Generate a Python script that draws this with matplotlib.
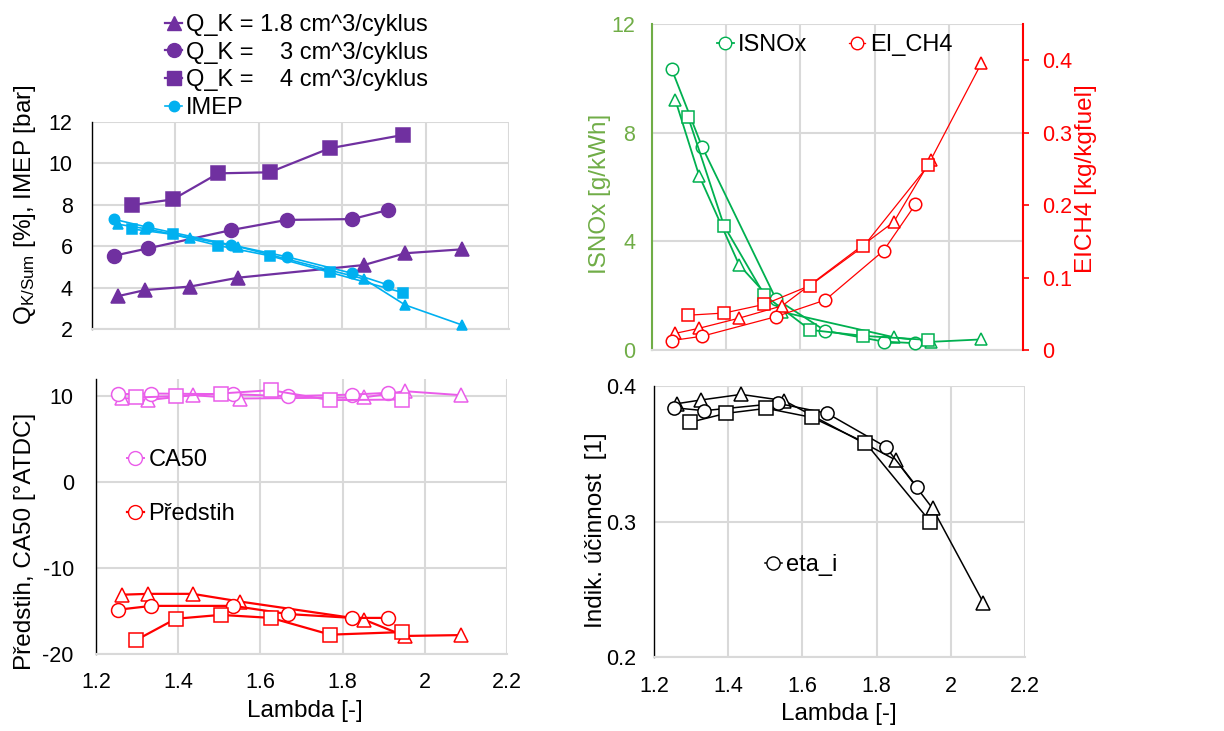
import matplotlib
matplotlib.use('Agg')
import matplotlib.pyplot as plt
from matplotlib.lines import Line2D
from matplotlib.ticker import FuncFormatter

plt.rcParams['font.family'] = ['Liberation Sans', 'DejaVu Sans']
plt.rcParams['font.size'] = 15.5
plt.rcParams['mathtext.fontset'] = 'custom'
plt.rcParams['mathtext.rm'] = 'Liberation Sans'
plt.rcParams['mathtext.it'] = 'Liberation Sans:italic'
plt.rcParams['axes.unicode_minus'] = False

# ---------------- data ----------------
lam_tri = [1.263, 1.327, 1.435, 1.551, 1.852, 1.951, 2.088]   # Q_K = 1.8
lam_cir = [1.253, 1.335, 1.534, 1.667, 1.824, 1.910]          # Q_K = 3
lam_sq = [1.297, 1.394, 1.503, 1.626, 1.770, 1.945]           # Q_K = 4

qk_tri = [3.59, 3.88, 4.05, 4.48, 5.09, 5.66, 5.85]
qk_cir = [5.54, 5.90, 6.78, 7.27, 7.31, 7.75]
qk_sq = [7.99, 8.26, 9.52, 9.57, 10.73, 11.37]

imep_tri = [7.06, 6.85, 6.41, 5.98, 4.42, 3.16, 2.19]
imep_cir = [7.30, 6.91, 6.06, 5.49, 4.69, 4.13]
imep_sq = [6.83, 6.57, 6.03, 5.54, 4.74, 3.76]

isnox_tri = [9.20, 6.42, 3.13, 1.40, 0.47, 0.30, 0.39]
isnox_cir = [10.34, 7.48, 1.88, 0.71, 0.31, 0.25]
isnox_sq = [8.59, 4.58, 2.02, 0.74, 0.52, 0.37]

eich4_tri = [0.023, 0.030, 0.044, 0.061, 0.177, 0.262, 0.396]
eich4_cir = [0.013, 0.019, 0.046, 0.069, 0.137, 0.201]
eich4_sq = [0.048, 0.051, 0.063, 0.089, 0.143, 0.255]

ca50_tri = [9.80, 9.54, 10.12, 9.73, 9.85, 10.58, 10.12]
ca50_cir = [10.23, 10.31, 10.23, 10.00, 10.19, 10.39]
ca50_sq = [9.85, 10.00, 10.31, 10.70, 9.54, 9.61]

pred_tri = [-13.1, -13.0, -13.0, -13.9, -16.0, -17.9, -17.8]
pred_cir = [-14.85, -14.4, -14.4, -15.35, -15.8, -15.8]
pred_sq = [-18.4, -15.9, -15.45, -15.8, -17.75, -17.45]

eta_tri = [0.387, 0.3897, 0.3938, 0.3892, 0.3453, 0.3096, 0.240]
eta_cir = [0.384, 0.3818, 0.3872, 0.3798, 0.3552, 0.3251]
eta_sq = [0.3732, 0.3798, 0.3835, 0.3768, 0.3581, 0.2998]

x_ticks = [1.2, 1.4, 1.6, 1.8, 2.0, 2.2]

legend_top = ['Q_K = 1.8 cm^3/cyklus', 'Q_K =    3 cm^3/cyklus',
              'Q_K =    4 cm^3/cyklus', 'IMEP']

# ---------------- colours ----------------
PURPLE = '#7030a0'
CYAN = '#00b0f0'
GREEN = '#00b050'
OLIVE = '#70ad47'
RED = '#ff0000'
VIOLET = '#ea5cea'
GRID = '#d9d9d9'

LABEL_FS = 17.5
LEG_FS = 17

W, H = 1224, 731
fig = plt.figure(figsize=(W / 100, H / 100), dpi=100)


def ax_px(l, t, r, b):
    return fig.add_axes([l / W, 1 - b / H, (r - l) / W, (b - t) / H])


def style(ax, xlabels=True, xpad=10, ypad=13):
    ax.set_xlim(1.2, 2.2)
    ax.set_xticks(x_ticks)
    ax.xaxis.set_major_formatter(FuncFormatter(lambda v, p: '%g' % round(v, 1)))
    ax.grid(True, color=GRID, lw=1.5)
    ax.set_axisbelow(True)
    ax.spines['top'].set_visible(False)
    ax.spines['right'].set_visible(False)
    ax.spines['bottom'].set_color(GRID)
    ax.spines['bottom'].set_linewidth(1.5)
    ax.spines['left'].set_color('black')
    ax.spines['left'].set_linewidth(1.0)
    ax.tick_params(axis='x', length=0, pad=xpad, labelbottom=xlabels)
    ax.tick_params(axis='y', length=0, pad=ypad)


def series(ax, x, y, marker, color, ms, lw, filled=False, z=3):
    ax.plot(x, y, marker=marker, color=color, ms=ms, lw=lw,
            mfc=color if filled else 'white', mec=color, mew=1.1,
            clip_on=False, zorder=z)


MK = ['^', 'o', 's']

# ---------------- top left ----------------
ax1 = ax_px(92, 122, 509, 329)
style(ax1, xlabels=False, ypad=14)
ax1.set_ylim(2, 12)
ax1.set_yticks([2, 4, 6, 8, 10, 12])
for lam, v, m in zip([lam_tri, lam_cir, lam_sq], [qk_tri, qk_cir, qk_sq], MK):
    series(ax1, lam, v, m, PURPLE, 10 if m != 's' else 9.5, 1.6, filled=True)
for lam, v, m in zip([lam_tri, lam_cir, lam_sq], [imep_tri, imep_cir, imep_sq], MK):
    series(ax1, lam, v, m, CYAN, 7.5, 1.2, filled=True, z=4)
ax1.set_ylabel(r'Q$_{\mathrm{K/Sum}}$ [%], IMEP [bar]', fontsize=LABEL_FS)
ax1.yaxis.set_label_coords(38 / W, 1 - 205 / H, transform=fig.transFigure)

h_top = [Line2D([], [], color=PURPLE, marker=m, ms=10, lw=1.6, mfc=PURPLE)
         for m in MK]
h_top.append(Line2D([], [], color=CYAN, marker='o', ms=7.5, lw=1.2, mfc=CYAN))
fig.legend(h_top, legend_top, loc='center left',
           bbox_to_anchor=(165 / W, 1 - 66.5 / H), frameon=False,
           borderpad=0, borderaxespad=0, handlelength=0.72,
           handletextpad=0.15, labelspacing=0.24, fontsize=LEG_FS)

# ---------------- top right ----------------
ax2 = ax_px(652, 24, 1023, 350)
style(ax2, xlabels=False, ypad=12)
ax2.spines['left'].set_color(OLIVE)
ax2.spines['left'].set_linewidth(1.5)
ax2.set_ylim(0, 12)
ax2.set_yticks([0, 4, 8, 12])
ax2.tick_params(axis='y', colors=OLIVE)
ax2.set_ylabel('ISNOx [g/kWh]', color=OLIVE, fontsize=LABEL_FS)
ax2.yaxis.set_label_coords(611 / W, 1 - 194 / H, transform=fig.transFigure)
for lam, v, m in zip([lam_tri, lam_cir, lam_sq], [isnox_tri, isnox_cir, isnox_sq], MK):
    series(ax2, lam, v, m, GREEN, 9, 1.3)

ax2r = ax2.twinx()
ax2r.set_ylim(0, 0.45)
ax2r.set_yticks([0, 0.1, 0.2, 0.3, 0.4])
ax2r.yaxis.set_major_formatter(FuncFormatter(lambda v, p: '%g' % round(v, 2)))
for s in ['top', 'left', 'bottom']:
    ax2r.spines[s].set_visible(False)
ax2r.spines['right'].set_color(RED)
ax2r.spines['right'].set_linewidth(1.5)
ax2r.tick_params(axis='y', colors=RED, length=4, width=1.2, direction='out', pad=10)
ax2r.set_ylabel('EICH4 [kg/kgfuel]', color=RED, rotation=90, fontsize=LABEL_FS)
ax2r.yaxis.set_label_coords(1075 / W, 1 - 179 / H, transform=fig.transFigure)
for lam, v, m in zip([lam_tri, lam_cir, lam_sq], [eich4_tri, eich4_cir, eich4_sq], MK):
    series(ax2r, lam, v, m, RED, 9, 0.9)

h_tr = [Line2D([], [], color=GREEN, marker='o', ms=9, lw=1.3, mfc='white'),
        Line2D([], [], color=RED, marker='o', ms=9, lw=0.9, mfc='white')]
fig.legend(h_tr, ['ISNOx', 'EI_CH4'], loc='center left', ncol=2,
           bbox_to_anchor=(717 / W, 1 - 45 / H), frameon=False,
           borderpad=0, borderaxespad=0, handlelength=0.7,
           handletextpad=0.2, columnspacing=1.75, fontsize=LEG_FS)

# ---------------- bottom left ----------------
ax3 = ax_px(96, 379, 507, 654)
style(ax3, xlabels=True, xpad=13, ypad=16)
ax3.set_ylim(-20, 12)
ax3.set_yticks([-20, -10, 0, 10])
for lam, v, m in zip([lam_tri, lam_cir, lam_sq], [ca50_tri, ca50_cir, ca50_sq], MK):
    series(ax3, lam, v, m, VIOLET, 10, 1.4)
for lam, v, m in zip([lam_tri, lam_cir, lam_sq], [pred_tri, pred_cir, pred_sq], MK):
    series(ax3, lam, v, m, RED, 10, 1.6)
ax3.set_ylabel('Předstih, CA50 [°ATDC]', fontsize=LABEL_FS)
ax3.yaxis.set_label_coords(36 / W, 1 - 541 / H, transform=fig.transFigure)
ax3.set_xlabel('Lambda [-]', fontsize=LABEL_FS)
ax3.xaxis.set_label_coords(305 / W, 1 - 700 / H, transform=fig.transFigure)

h_bl = [Line2D([], [], color=VIOLET, marker='o', ms=10, lw=1.4, mfc='white'),
        Line2D([], [], color=RED, marker='o', ms=10, lw=1.6, mfc='white')]
fig.legend(h_bl, ['CA50', 'Předstih'], loc='center left',
           bbox_to_anchor=(127 / W, 1 - 487 / H), frameon=False,
           borderpad=0, borderaxespad=0, handlelength=0.7,
           handletextpad=0.2, labelspacing=1.36, fontsize=LEG_FS)

# ---------------- bottom right ----------------
ax4 = ax_px(654, 386, 1025, 657)
style(ax4, xlabels=True, xpad=14, ypad=13)
ax4.set_ylim(0.2, 0.4)
ax4.set_yticks([0.2, 0.3, 0.4])
for lam, v, m in zip([lam_tri, lam_cir, lam_sq], [eta_tri, eta_cir, eta_sq], MK):
    series(ax4, lam, v, m, 'black', 9.5, 1.1)
ax4.set_ylabel('Indik. účinnost  [1]', fontsize=LABEL_FS)
ax4.yaxis.set_label_coords(607 / W, 1 - 530 / H, transform=fig.transFigure)
ax4.set_xlabel('Lambda [-]', fontsize=LABEL_FS)
ax4.xaxis.set_label_coords(839 / W, 1 - 703 / H, transform=fig.transFigure)

h_br = [Line2D([], [], color='black', marker='o', ms=9.5, lw=1.1, mfc='white')]
fig.legend(h_br, ['eta_i'], loc='center left',
           bbox_to_anchor=(765 / W, 1 - 565 / H), frameon=False,
           borderpad=0, borderaxespad=0, handlelength=0.7,
           handletextpad=0.2, fontsize=LEG_FS)

fig.savefig('out.png', dpi=100, facecolor='white')
